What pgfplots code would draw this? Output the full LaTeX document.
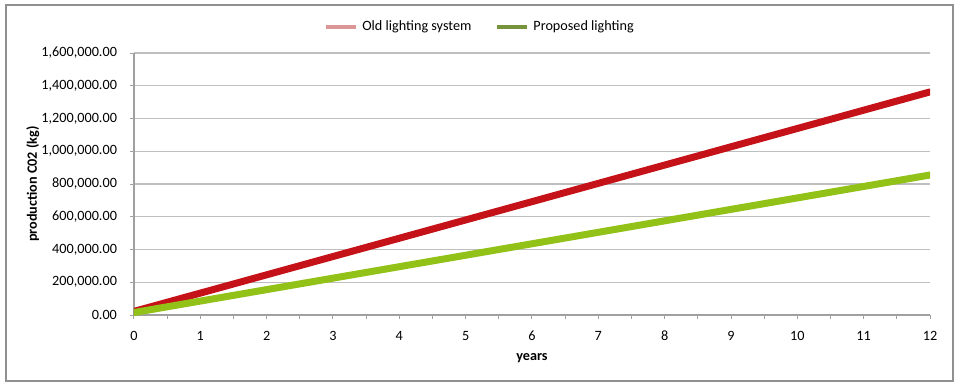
\documentclass[border=0pt]{standalone}
\usepackage{fontspec}
\setmainfont{Carlito}
\usepackage{pgfplots}
\pgfplotsset{compat=1.18}
\definecolor{oldred}{RGB}{196,18,24}
\definecolor{newgreen}{RGB}{146,193,24}
\definecolor{legpink}{RGB}{221,150,150}
\definecolor{leggreen}{RGB}{119,147,60}
\definecolor{gridgray}{RGB}{190,190,190}
\definecolor{axgray}{RGB}{160,160,160}
\begin{document}
\begin{tikzpicture}
\path[use as bounding box] (-67pt,-35.5pt) rectangle (413pt,157.5pt);
\draw[color=axgray!90!black, line width=0.6pt] (-64pt,-33pt) rectangle (409.5pt,155pt);
\begin{axis}[
  anchor=origin, at={(0pt,0pt)},
  scale only axis, width=398pt, height=131pt,
  xmin=0, xmax=12, ymin=0, ymax=1600000,
  axis x line=bottom, axis y line=left,
  axis line style={-, color=axgray, line width=0.6pt},
  xtick={0,...,12}, minor x tick num=1,
  ytick={0,200000,...,1600000},
  tick align=outside, major tick length=2pt, minor tick length=2pt,
  tick style={color=axgray, line width=0.5pt},
  ymajorgrids, grid style={color=gridgray, line width=0.6pt},
  font=\fontsize{7.1}{8.5}\selectfont,
  /pgf/number format/assume math mode=true,
  scaled y ticks=false,
  yticklabel style={xshift=-3pt, /pgf/number format/fixed, /pgf/number format/fixed zerofill, /pgf/number format/precision=2, /pgf/number format/1000 sep={,}},
  xticklabel style={yshift=-2.5pt},
  xlabel={\textbf{years}}, ylabel={\textbf{production C02 (kg)}},
  xlabel style={at={(axis description cs:0.5,-0.165)}, anchor=center},
  ylabel style={at={(axis description cs:-0.127,0.5)}, anchor=center, rotate=0},
  legend style={at={(axis description cs:0.436,1.10)}, anchor=center, draw=none, fill=none,
    font=\fontsize{7.1}{8.5}\selectfont, /tikz/every even column/.append style={column sep=10pt}},
  legend columns=2,
  legend image code/.code={\draw[#1, line width=2pt] (0pt,0pt) -- (15pt,0pt);},
]
\addlegendimage{color=legpink}
\addlegendentry{Old lighting system}
\addlegendimage{color=leggreen}
\addlegendentry{Proposed lighting}
\addplot[color=oldred, line width=3.5pt, line cap=round, forget plot] coordinates {
(0,22000) (1,133700) (2,245400) (3,357100) (4,468800) (5,580500) (6,692200)
(7,803900) (8,915600) (9,1027300) (10,1139000) (11,1250700) (12,1362400)};
\addplot[color=newgreen, line width=3.5pt, line cap=round, forget plot] coordinates {
(0,15000) (1,85000) (2,155000) (3,225000) (4,295000) (5,365000) (6,435000)
(7,505000) (8,575000) (9,645000) (10,715000) (11,785000) (12,855000)};
\end{axis}
\end{tikzpicture}
\end{document}
